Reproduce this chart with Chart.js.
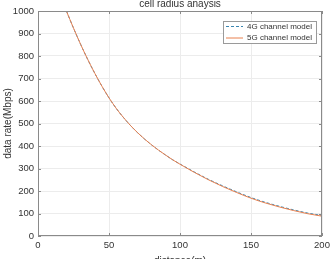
<!DOCTYPE html>
<html>
<head>
<meta charset="utf-8">
<script src="https://cdn.jsdelivr.net/npm/chart.js@4"></script>
<style>
  html, body { margin: 0; padding: 0; background: #fff; }
  #wrap { width: 330px; height: 259px; }
</style>
</head>
<body>
<div id="wrap"><canvas id="chart" width="330" height="259"></canvas></div>
<script>
// values
const distance = [20, 25, 30, 35, 40, 45, 50, 55, 60, 65, 70, 75, 80, 85, 90, 95, 100,
  110, 120, 130, 140, 150, 160, 170, 180, 190, 200];
const rate5G = [1000, 924, 852, 785, 723, 666, 614, 568, 528, 492, 460, 431, 405, 381, 359, 338, 319,
  283, 250, 220, 193, 168, 147, 129, 113, 99, 88];
const rate4G = [1000, 924, 852, 785, 723, 666, 614, 568, 528, 492, 460, 431, 405, 381, 359, 338, 320,
  285, 252, 223, 196, 171, 150, 132, 116, 102, 91];
const xTicks = [0, 50, 100, 150, 200];
const yTicks = [0, 100, 200, 300, 400, 500, 600, 700, 800, 900, 1000];

const FONT = "'Liberation Sans', Arial, sans-serif";
const BLUE = "#3a86b0";
const ORANGE = "#e8804f";

function toPoints(xs, ys) {
  return xs.map((x, i) => ({ x: x, y: ys[i] }));
}

// box, inner ticks, title and legend drawn the MATLAB way
const matlabFrame = {
  id: "matlabFrame",
  afterDraw(chart) {
    const ctx = chart.ctx;
    const a = chart.chartArea;
    const xs = chart.scales.x;
    const ys = chart.scales.y;
    ctx.save();
    ctx.strokeStyle = "#8a8a8a";
    ctx.lineWidth = 1;
    ctx.strokeRect(a.left + 0.5, a.top + 0.5, a.right - a.left - 1, a.bottom - a.top - 1);
    ctx.beginPath();
    xTicks.forEach((v) => {
      const px = Math.round(xs.getPixelForValue(v)) + 0.5;
      ctx.moveTo(px, a.bottom); ctx.lineTo(px, a.bottom - 3);
      ctx.moveTo(px, a.top); ctx.lineTo(px, a.top + 3);
    });
    yTicks.forEach((v) => {
      const py = Math.round(ys.getPixelForValue(v)) + 0.5;
      ctx.moveTo(a.left, py); ctx.lineTo(a.left + 3, py);
      ctx.moveTo(a.right, py); ctx.lineTo(a.right - 3, py);
    });
    ctx.stroke();

    // title
    ctx.fillStyle = "#333";
    ctx.font = "10px " + FONT;
    ctx.textAlign = "center";
    ctx.textBaseline = "middle";
    ctx.fillText("cell radius anaysis", (a.left + a.right) / 2, 4.5);

    // legend
    const lx = 223, ly = 21, lw = 93, lh = 22;
    ctx.fillStyle = "#fff";
    ctx.fillRect(lx, ly, lw, lh);
    ctx.strokeStyle = "#9a9a9a";
    ctx.strokeRect(lx + 0.5, ly + 0.5, lw, lh);
    ctx.font = "8px " + FONT;
    ctx.textAlign = "left";
    chart.data.datasets.forEach((ds, i) => {
      const y = ly + 5.5 + i * 11.5;
      ctx.strokeStyle = ds.borderColor;
      ctx.lineWidth = 1;
      ctx.setLineDash(ds.borderDash || []);
      ctx.beginPath();
      ctx.moveTo(lx + 3, y);
      ctx.lineTo(lx + 20, y);
      ctx.stroke();
      ctx.setLineDash([]);
      ctx.fillStyle = "#333";
      ctx.fillText(ds.label, lx + 24, y);
    });
    ctx.restore();
  },
};

const chart = new Chart(document.getElementById("chart"), {
  type: "line",
  data: {
    datasets: [
      {
        label: "4G channel model",
        data: toPoints(distance, rate4G),
        borderColor: BLUE,
        borderDash: [3, 2],
        borderWidth: 1,
        pointRadius: 0,
        cubicInterpolationMode: "monotone",
        order: 2,
      },
      {
        label: "5G channel model",
        data: toPoints(distance, rate5G),
        borderColor: ORANGE,
        borderWidth: 1,
        pointRadius: 0,
        cubicInterpolationMode: "monotone",
        order: 1,
      },
    ],
  },
  options: {
    responsive: false,
    animation: false,
    layout: { padding: { top: 11, right: 8, left: 0, bottom: 0 } },
    plugins: {
      legend: { display: false },
      title: { display: false },
      tooltip: { enabled: false },
    },
    scales: {
      x: {
        type: "linear",
        min: 0,
        max: 200,
        afterBuildTicks: (s) => { s.ticks = xTicks.map((v) => ({ value: v })); },
        afterFit: (s) => { s.height = 23; s.paddingRight = 0; s.paddingLeft = 0; },
        ticks: { color: "#333", font: { family: FONT, size: 9.5 }, padding: 4, maxRotation: 0, callback: (v) => String(v) },
        grid: { color: "#ececec", drawTicks: false },
        border: { display: false },
        title: {
          display: true,
          text: "distance(m)",
          color: "#333",
          font: { family: FONT, size: 10 },
          padding: { top: 0, bottom: -8 },
        },
      },
      y: {
        type: "linear",
        min: 0,
        max: 1000,
        afterBuildTicks: (s) => { s.ticks = yTicks.map((v) => ({ value: v })); },
        afterFit: (s) => { s.width = 38; s.paddingTop = 0; s.paddingBottom = 0; },
        ticks: { color: "#333", font: { family: FONT, size: 9.5 }, padding: 4, callback: (v) => String(v) },
        grid: { color: "#ececec", drawTicks: false },
        border: { display: false },
        title: {
          display: true,
          text: "data rate(Mbps)",
          color: "#333",
          font: { family: FONT, size: 10 },
          padding: { top: 2, bottom: 0 },
        },
      },
    },
  },
  plugins: [matlabFrame],
});
</script>
</body>
</html>
